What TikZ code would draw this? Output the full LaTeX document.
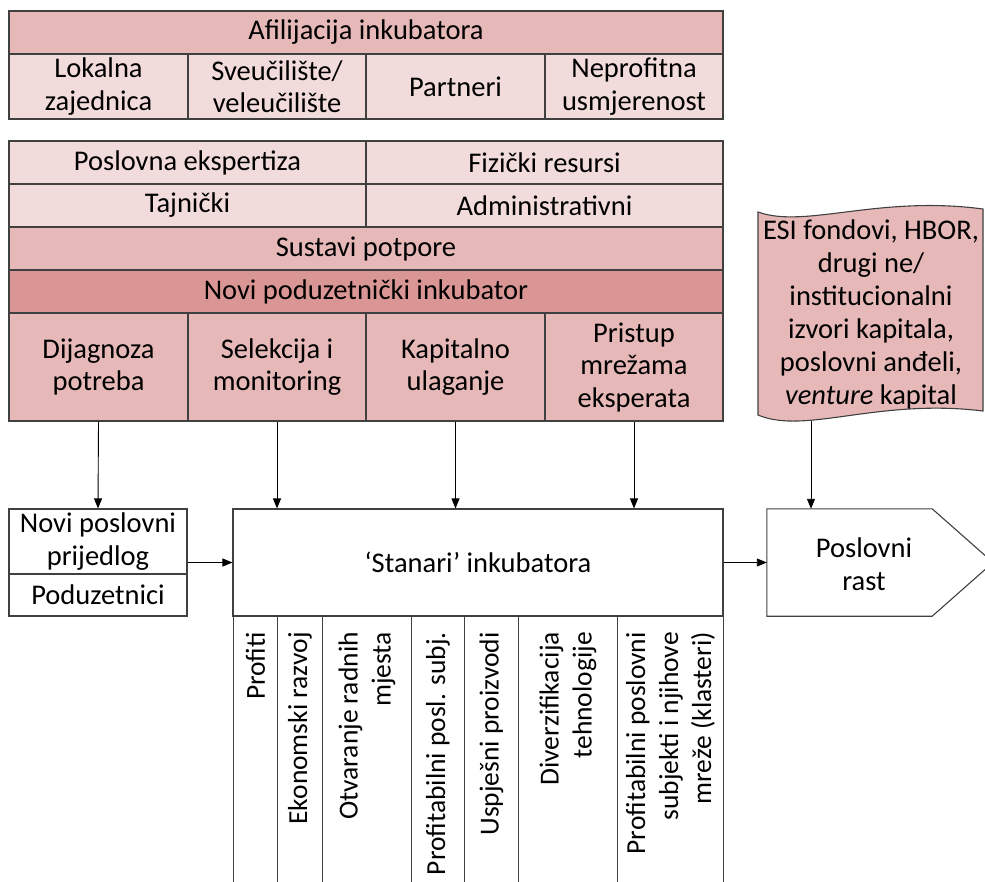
\documentclass[tikz,border=0pt]{standalone}
\usepackage{fontspec}
\setmainfont{Carlito}
\usetikzlibrary{arrows.meta,calc}
\definecolor{cellA}{HTML}{F2DCDB}
\definecolor{cellB}{HTML}{E6B9B8}
\definecolor{cellC}{HTML}{DA9694}
\definecolor{edge}{HTML}{404040}
\tikzset{
  cell/.style={draw=edge, line width=1.1pt, inner sep=0pt, align=center,
    font=\fontsize{28.5}{32.5}\selectfont},
  lite/.style={cell, fill=cellA},
  mid/.style={cell, fill=cellB},
  deep/.style={cell, fill=cellC},
  plain/.style={cell, fill=white},
  vlabel/.style={inner sep=0pt, align=right, rotate=90, anchor=east,
    font=\fontsize{27.5}{33}\selectfont},
  arr/.style={draw=black, line width=0.9pt, -{Triangle[length=10pt,width=8pt]}}
}
\begin{document}
\begin{tikzpicture}[x=1pt, y=-1pt]
\useasboundingbox (0,0) rectangle (985,881);

% affiliation table
\node[mid,  minimum width=714, minimum height=43] (afil) at (366,32.5) {Afilijacija inkubatora};
\node[lite, minimum width=179, minimum height=65] (lok)  at (98.5,86.5) {Lokalna\\zajednica};
\node[lite, minimum width=178, minimum height=65] (sveu) at (277,86.5) {Sveučilište/\\veleučilište};
\node[lite, minimum width=179, minimum height=65] (part) at (455.5,86.5) {Partneri};
\node[lite, minimum width=178, minimum height=65] (nepr) at (634,86.5) {Neprofitna\\usmjerenost};

% resources and support block
\node[lite, minimum width=357, minimum height=43] (posl) at (187.5,162.5) {Poslovna ekspertiza};
\node[lite, minimum width=357, minimum height=43] (fiz)  at (544.5,162.5) {Fizički resursi};
\node[lite, minimum width=357, minimum height=43] (taj)  at (187.5,205.5) {Tajnički};
\node[lite, minimum width=357, minimum height=43] (adm)  at (544.5,205.5) {Administrativni};
\node[mid,  minimum width=714, minimum height=43] (sus)  at (366,248.5) {Sustavi potpore};
\node[deep, minimum width=714, minimum height=43] (novi) at (366,291.5) {Novi poduzetnički inkubator};
\node[mid, minimum width=179, minimum height=108] (dij) at (98.5,367) {Dijagnoza\\potreba};
\node[mid, minimum width=178, minimum height=108] (sel) at (277,367) {Selekcija i\\monitoring};
\node[mid, minimum width=179, minimum height=108] (kap) at (455.5,367) {Kapitalno\\ulaganje};
\node[mid, minimum width=178, minimum height=108] (pri) at (634,367) {Pristup\\mrežama\\eksperata};

% capital sources (document shape)
\draw[draw=edge, line width=1.1pt, fill=cellB]
  (758,212) .. controls (805,229) and (878,195) .. (983,209)
  -- (983,411) .. controls (878,398) and (805,435) .. (758,415) -- cycle;
\node[inner sep=0pt, align=center, font=\fontsize{28.5}{33}\selectfont] (esi) at (871,314)
  {ESI fondovi, HBOR,\\drugi ne/\\institucionalni\\izvori kapitala,\\poslovni anđeli,\\\textit{venture} kapital};
\coordinate (esi-out) at (811,421);

% entrepreneurs
\node[plain, minimum width=178, minimum height=65] (npp) at (98,541.5) {Novi poslovni\\prijedlog};
\node[plain, minimum width=178, minimum height=42] (pod) at (98,595) {Poduzetnici};

% tenants
\node[plain, minimum width=490, minimum height=107] (stan) at (478,562.5) {‘Stanari’ inkubatora};

% outcome columns
\foreach \xa/\xb/\nm in {233/277/c1, 277/322/c2, 322/411/c3, 411/464/c4, 464/518/c5, 518/617/c6, 617/723/c7}{
  \node[plain, anchor=north west, minimum width=\xb-\xa, minimum height=275] (\nm) at (\xa,616) {};
}
\node[vlabel] (l1) at ($(c1.north)+(0,16)$) {Profiti};
\node[vlabel] (l2) at ($(c2.north)+(0,16)$) {Ekonomski razvoj};
\node[vlabel] (l3) at ($(c3.north)+(0,16)$) {Otvaranje radnih\\mjesta};
\node[vlabel] (l4) at ($(c4.north)+(0,16)$) {Profitabilni posl. subj.};
\node[vlabel] (l5) at ($(c5.north)+(0,16)$) {Uspješni proizvodi};
\node[vlabel] (l6) at ($(c6.north)+(0,16)$) {Diverzifikacija\\tehnologije};
\node[vlabel] (l7) at ($(c7.north)+(0,16)$) {Profitabilni poslovni\\subjekti i njihove\\mreže (klasteri)};

% business growth (pointed shape)
\node[inner sep=0pt, minimum width=165, minimum height=107] (rast) at (849.5,562.5) {};
\draw[draw=edge, line width=1.1pt, fill=white]
  (rast.north west) -- (rast.north east) -- (993,562.5) -- (rast.south east)
  -- (rast.south west) -- cycle;
\node[inner sep=0pt, align=center, font=\fontsize{28.5}{32.5}\selectfont] (rast-t) at (864,564) {Poslovni\\rast};

% connectors
\draw[arr] (dij.south) -- (npp.north);
\draw[arr] (sel.south) -- (sel.south |- stan.north);
\draw[arr] (kap.south) -- (kap.south |- stan.north);
\draw[arr] (pri.south) -- (pri.south |- stan.north);
\draw[arr] (esi-out) -- (esi-out |- rast.north);
\draw[arr] (stan.west -| npp.east) -- (stan.west);
\draw[arr] (stan.east) -- (rast.west);
\end{tikzpicture}
\end{document}
